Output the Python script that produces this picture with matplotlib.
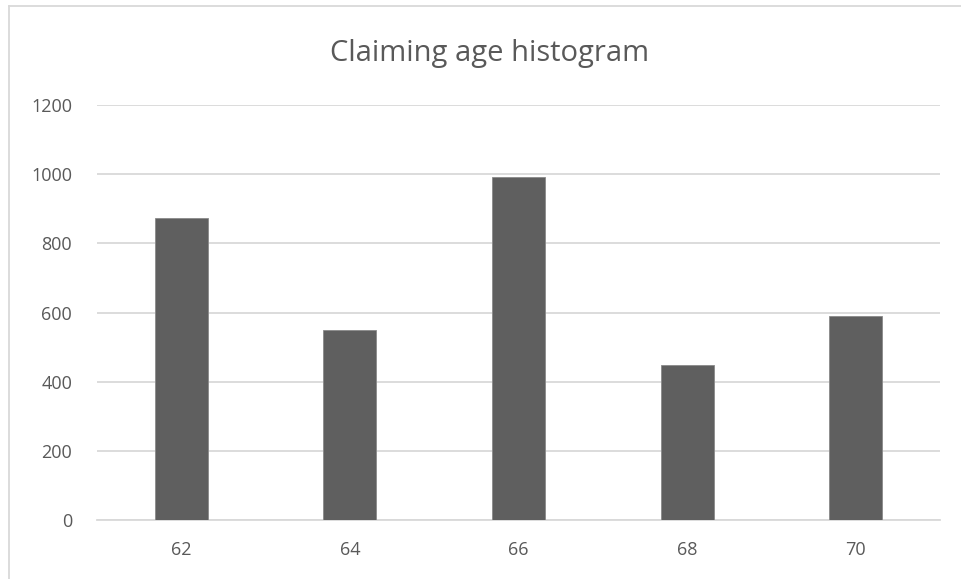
import matplotlib

matplotlib.use("Agg")
import matplotlib.pyplot as plt
from matplotlib.lines import Line2D

ages = ["62", "64", "66", "68", "70"]
counts = [872, 548, 993, 448, 589]
y_ticks = [0, 200, 400, 600, 800, 1000, 1200]

W, H = 961, 579
fig = plt.figure(figsize=(W / 100, H / 100), dpi=100)
plt.rcParams["font.family"] = ["Open Sans", "DejaVu Sans"]

# plot area in pixel terms
left, right, bottom, top = 97, 940, 520, 105
ax = fig.add_axes([left / W, 1 - bottom / H, (right - left) / W, (bottom - top) / H])

x = range(len(ages))
ax.bar(x, counts, width=0.315, color="#5f5f5f", edgecolor="#8a8a8a", linewidth=0.6, zorder=3)
ax.set_xlim(-0.5, len(ages) - 0.5)
ax.set_ylim(0, 1200)
ax.set_yticks(y_ticks)
ax.set_xticks(list(x))
ax.set_xticklabels(ages)
ax.grid(axis="y", color="#d9d9d9", linewidth=1.3, zorder=0)
ax.set_axisbelow(True)
for side in ("top", "right", "left"):
    ax.spines[side].set_visible(False)
ax.spines["bottom"].set_color("#d9d9d9")
ax.spines["bottom"].set_linewidth(1.3)
ax.tick_params(axis="both", length=0, labelsize=13, labelcolor="#595959")
ax.tick_params(axis="x", pad=15)
ax.tick_params(axis="y", pad=18)

fig.text(490 / W, 1 - 53 / H, "Claiming age histogram", ha="center", va="center",
         fontsize=21, color="#595959")

# chart frame (top and left edges)
fig.add_artist(Line2D([8.5 / W, 1], [1 - 6 / H, 1 - 6 / H], color="#d9d9d9", linewidth=1.3,
                      transform=fig.transFigure))
fig.add_artist(Line2D([8.5 / W, 8.5 / W], [0, 1 - 6 / H], color="#d9d9d9", linewidth=1.3,
                      transform=fig.transFigure))

fig.savefig("out.png", dpi=100)
